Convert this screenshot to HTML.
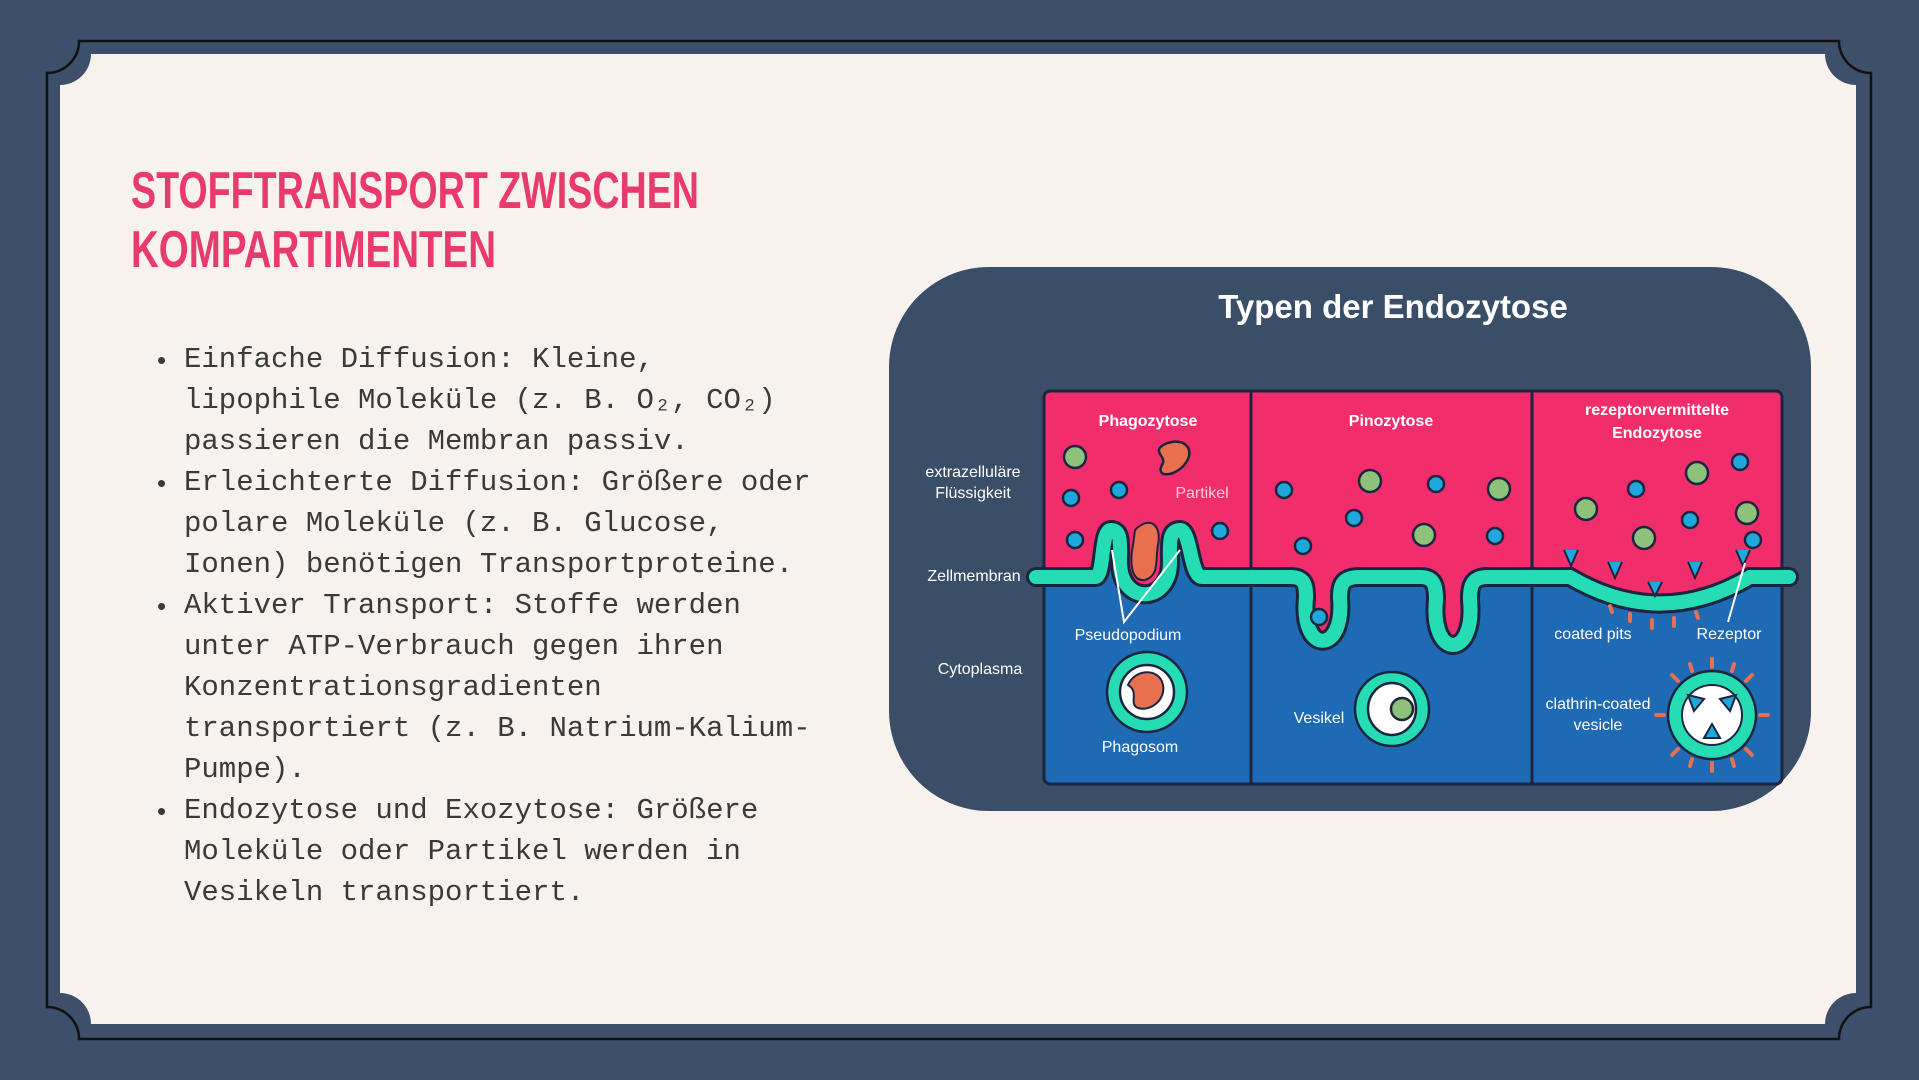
<!DOCTYPE html>
<html><head><meta charset="utf-8"><style>
html,body{margin:0;padding:0;width:1919px;height:1080px;overflow:hidden;background:#3d4f6b;}
.bul{position:absolute;left:184px;top:339px;font-family:"Liberation Mono",monospace;font-size:29px;line-height:41px;color:#3a3a3a;white-space:pre;}
.dot{position:absolute;left:157px;font-family:"Liberation Sans",sans-serif;font-size:26px;color:#3a3a3a;}
</style></head><body>
<svg width="1919" height="1080" style="position:absolute;left:0;top:0" font-family="Liberation Sans, sans-serif">
<path d="M47,73 A32 32 0 0 0 79,41 L1839,41 A32 32 0 0 0 1871,73 L1871,1007 A32 32 0 0 0 1839,1039 L79,1039 A32 32 0 0 0 47,1007 Z" fill="none" stroke="#111" stroke-width="2.5"/>
<path d="M60,85 A31 31 0 0 0 91,54 L1825,54 A31 31 0 0 0 1856,85 L1856,993 A31 31 0 0 0 1825,1024 L91,1024 A31 31 0 0 0 60,993 Z" fill="#f7f2ed"/>
<text x="131" y="208" font-size="52" font-weight="bold" fill="#e83a6e" textLength="568" lengthAdjust="spacingAndGlyphs">STOFFTRANSPORT ZWISCHEN</text>
<text x="131" y="267" font-size="52" font-weight="bold" fill="#e83a6e" textLength="365" lengthAdjust="spacingAndGlyphs">KOMPARTIMENTEN</text>

<rect x="889" y="267" width="922" height="544" rx="100" fill="#3a4e68"/>
<text x="1393" y="318" font-size="33" font-weight="bold" fill="#fff" text-anchor="middle">Typen der Endozytose</text>
<defs><clipPath id="bx"><rect x="1044" y="391" width="738" height="393" rx="6"/></clipPath>
<path id="mem" d="M1036,577 L1095,577 C1105,577 1100,530 1111,530 C1122,530 1120,545 1120,562 C1120,605 1170,605 1170,562 C1170,545 1168,530 1180,530 C1191,530 1190,577 1202,577 L1290,577 C1305,577 1306,585 1306,598 C1300,655 1345,655 1340,598 C1340,585 1342,577 1360,577 L1420,577 C1434,577 1436,585 1436,600 C1430,660 1476,660 1470,600 C1470,585 1472,577 1488,577 L1570,577 Q1660,630 1750,577 L1789,577"/></defs>
<g clip-path="url(#bx)">
<rect x="1044" y="391" width="738" height="393" fill="#f22d6c"/>
<path d="M1030,577 L1095,577 C1105,577 1100,530 1111,530 C1122,530 1120,545 1120,562 C1120,605 1170,605 1170,562 C1170,545 1168,530 1180,530 C1191,530 1190,577 1202,577 L1290,577 C1305,577 1306,585 1306,598 C1300,655 1345,655 1340,598 C1340,585 1342,577 1360,577 L1420,577 C1434,577 1436,585 1436,600 C1430,660 1476,660 1470,600 C1470,585 1472,577 1488,577 L1570,577 Q1660,630 1750,577 L1800,577 L1800,790 L1030,790 Z" fill="#1f6ab4"/>
<line x1="1251" y1="391" x2="1251" y2="784" stroke="#1b2540" stroke-width="3"/>
<line x1="1532" y1="391" x2="1532" y2="784" stroke="#1b2540" stroke-width="3"/>
</g>
<rect x="1044" y="391" width="738" height="393" rx="6" fill="none" stroke="#1b2540" stroke-width="3"/>
<use href="#mem" fill="none" stroke="#1b2540" stroke-width="20" stroke-linecap="round"/>
<use href="#mem" fill="none" stroke="#26dcb4" stroke-width="14" stroke-linecap="round"/>
<g stroke="#1b2540" stroke-width="2.5">
<g fill="#8ec27a"><circle cx="1075" cy="457" r="11"/><circle cx="1370" cy="481" r="11"/><circle cx="1499" cy="489" r="11"/><circle cx="1424" cy="535" r="11"/><circle cx="1586" cy="509" r="11"/><circle cx="1697" cy="473" r="11"/><circle cx="1747" cy="513" r="11"/><circle cx="1644" cy="538" r="11"/></g>
<g fill="#1ea8dc"><circle cx="1071" cy="498" r="8"/><circle cx="1119" cy="490" r="8"/><circle cx="1075" cy="540" r="8"/><circle cx="1220" cy="531" r="8"/><circle cx="1284" cy="490" r="8"/><circle cx="1436" cy="484" r="8"/><circle cx="1354" cy="518" r="8"/><circle cx="1303" cy="546" r="8"/><circle cx="1495" cy="536" r="8"/><circle cx="1319" cy="617" r="8"/><circle cx="1636" cy="489" r="8"/><circle cx="1740" cy="462" r="8"/><circle cx="1690" cy="520" r="8"/><circle cx="1753" cy="540" r="8"/></g>
<path d="M1165,444 C1185,436 1196,450 1185,464 C1175,477 1155,478 1162,465 C1168,456 1150,452 1165,444Z" fill="#e8704f"/>
<circle cx="1147" cy="692" r="40" fill="#26dcb4"/><circle cx="1147" cy="692" r="27" fill="#fff"/>
<circle cx="1392" cy="709" r="37" fill="#26dcb4"/><ellipse cx="1392" cy="709" rx="24" ry="26" fill="#fff"/><circle cx="1402" cy="709" r="11" fill="#8ec27a"/>
</g>
<path d="M1135,530 C1150,515 1162,525 1158,545 C1155,560 1160,575 1145,580 C1130,582 1130,560 1133,545 Z" fill="#e8704f" stroke="#1b2540" stroke-width="2"/>
<path d="M1128,685 C1135,668 1160,668 1163,685 C1166,700 1150,712 1138,708 C1128,704 1140,692 1128,685Z" fill="#e8704f" stroke="#1b2540" stroke-width="2"/>
<g stroke="#e8704f" stroke-width="4" stroke-linecap="round">
<line x1="1712" y1="659" x2="1712" y2="667"/><line x1="1712" y1="763" x2="1712" y2="771"/><line x1="1656" y1="715" x2="1664" y2="715"/><line x1="1760" y1="715" x2="1768" y2="715"/>
<line x1="1672" y1="675" x2="1678" y2="681"/><line x1="1752" y1="675" x2="1746" y2="681"/><line x1="1672" y1="755" x2="1678" y2="749"/><line x1="1752" y1="755" x2="1746" y2="749"/>
<line x1="1690" y1="664" x2="1692" y2="671"/><line x1="1734" y1="664" x2="1732" y2="671"/><line x1="1690" y1="766" x2="1692" y2="759"/><line x1="1734" y1="766" x2="1732" y2="759"/>
<line x1="1610" y1="606" x2="1612" y2="612"/><line x1="1630" y1="614" x2="1630" y2="621"/><line x1="1652" y1="620" x2="1652" y2="628"/><line x1="1674" y1="618" x2="1674" y2="626"/><line x1="1696" y1="612" x2="1698" y2="618"/>
</g>
<circle cx="1712" cy="715" r="44" fill="#26dcb4" stroke="#1b2540" stroke-width="2.5"/><circle cx="1712" cy="715" r="30" fill="#fff" stroke="#1b2540" stroke-width="2"/>
<g fill="#1ea8dc" stroke="#1b2540" stroke-width="2"><path d="M1688,695 l16,4 l-10,12z"/><path d="M1736,695 l-16,4 l10,12z"/><path d="M1704,738 l16,0 l-8,-14z"/>
<path d="M1564,550 l7,16 l7,-16"/><path d="M1608,562 l7,16 l7,-16"/><path d="M1648,582 l7,14 l7,-14"/><path d="M1688,562 l7,16 l7,-16"/><path d="M1736,550 l7,16 l7,-16"/></g>
<g stroke="#fff" stroke-width="2" fill="none"><polyline points="1112,550 1124,622 1180,550"/><line x1="1745" y1="563" x2="1728" y2="622"/></g>
<g fill="#fff" font-size="16" text-anchor="middle">
<text x="1148" y="426" font-weight="bold">Phagozytose</text>
<text x="1391" y="426" font-weight="bold">Pinozytose</text>
<text x="1657" y="415" font-weight="bold">rezeptorvermittelte</text>
<text x="1657" y="438" font-weight="bold">Endozytose</text>
<text x="973" y="477">extrazelluläre</text><text x="973" y="498">Flüssigkeit</text>
<text x="974" y="581">Zellmembran</text><text x="980" y="674">Cytoplasma</text>
<text x="1202" y="498" fill="#f7d0da">Partikel</text>
<text x="1128" y="640">Pseudopodium</text><text x="1140" y="752">Phagosom</text>
<text x="1319" y="723">Vesikel</text>
<text x="1593" y="639">coated pits</text><text x="1729" y="639">Rezeptor</text>
<text x="1598" y="709">clathrin-coated</text><text x="1598" y="730">vesicle</text>
</g>
</svg>
<div class="dot" style="top:345px">•</div>
<div class="dot" style="top:468px">•</div>
<div class="dot" style="top:591px">•</div>
<div class="dot" style="top:796px">•</div>
<div class="bul">Einfache Diffusion: Kleine,
lipophile Moleküle (z. B. O₂, CO₂)
passieren die Membran passiv.
Erleichterte Diffusion: Größere oder
polare Moleküle (z. B. Glucose,
Ionen) benötigen Transportproteine.
Aktiver Transport: Stoffe werden
unter ATP-Verbrauch gegen ihren
Konzentrationsgradienten
transportiert (z. B. Natrium-Kalium-
Pumpe).
Endozytose und Exozytose: Größere
Moleküle oder Partikel werden in
Vesikeln transportiert.</div>
</body></html>
